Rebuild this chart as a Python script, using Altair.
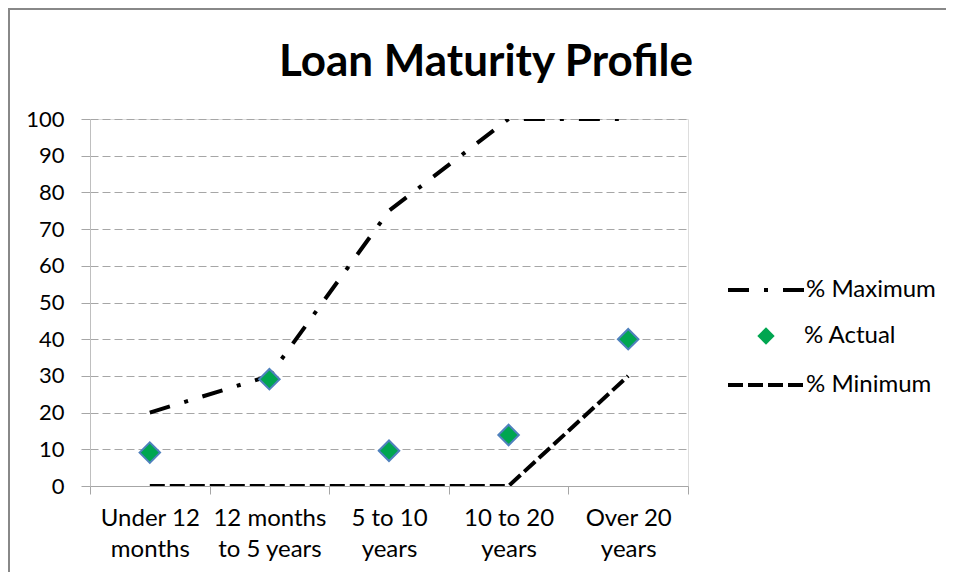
import json
import altair as alt
import pandas as pd

categories = ["Under 12 months", "12 months to 5 years", "5 to 10 years", "10 to 20 years", "Over 20 years"]
tick_labels = [["Under 12", "months"], ["12 months", "to 5 years"], ["5 to 10", "years"],
               ["10 to 20", "years"], ["Over 20", "years"]]
series_names = ["% Maximum", "% Actual", "% Minimum"]
maximum = [20, 30, 75, 100, 100]
actual = [9.1, 29.1, 9.6, 13.9, 40]
minimum = [0, 0, 0, 0, 30]

rows = []
for name, vals in zip(series_names, [maximum, actual, minimum]):
    for c, v in zip(categories, vals):
        rows.append({"cat": c, "series": name, "value": v})
df = pd.DataFrame(rows)

FONT = "Lato"
label_map = json.dumps(dict(zip(categories, tick_labels)))
MAX_DASH = [21, 15, 4, 15]
MIN_DASH = [15, 5]

x_enc = alt.X(
    "cat:N", sort=categories, bandPosition=0.5,
    scale=alt.Scale(type="band", paddingInner=0, paddingOuter=0),
    axis=alt.Axis(title=None, labelAngle=0, tickBand="extent", grid=False,
                  domainColor="#a6a6a6", tickColor="#a6a6a6", tickSize=8,
                  labelPadding=12, labelFont=FONT, labelFontSize=24, labelColor="#000000",
                  labelLineHeight=31, labelExpr=label_map + "[datum.label]"),
)
y_enc = alt.Y(
    "value:Q", scale=alt.Scale(domain=[0, 100], nice=False),
    axis=alt.Axis(title=None, values=list(range(0, 101, 10)), grid=True, gridDash=[8, 4],
                  gridColor="#a6a6a6", domainColor="#bfbfbf", tickColor="#a6a6a6", tickSize=9,
                  labelPadding=17, labelFont=FONT, labelFontSize=22, labelColor="#000000"),
)

base = alt.Chart(df).encode(x=x_enc, y=y_enc)

max_line = base.transform_filter(alt.datum.series == series_names[0]).mark_line(
    color="black", strokeWidth=4, clip=True
).encode(
    strokeDash=alt.StrokeDash(
        "series:N",
        scale=alt.Scale(domain=[series_names[0]], range=[MAX_DASH]),
        legend=alt.Legend(orient="none", legendX=636, legendY=131, title=None,
                          symbolType="stroke", symbolSize=5776, symbolStrokeWidth=4,
                          symbolStrokeColor="black", labelFont=FONT, labelFontSize=24,
                          labelColor="#000000", labelOffset=0),
    )
)

points = base.transform_filter(alt.datum.series == series_names[1]).mark_point(
    filled=True, fill="#00A650", stroke="#4F81BD", strokeWidth=2, size=420, opacity=1
).encode(
    shape=alt.Shape(
        "series:N",
        scale=alt.Scale(domain=[series_names[1]], range=["diamond"]),
        legend=alt.Legend(orient="none", legendX=664, legendY=205, title=None,
                          symbolSize=300, symbolFillColor="#00A650",
                          symbolStrokeColor="#4F81BD", symbolStrokeWidth=1.5,
                          labelFont=FONT, labelFontSize=24, labelColor="#000000",
                          labelOffset=26),
    )
)

min_line = base.transform_filter(alt.datum.series == series_names[2]).mark_line(
    color="black", strokeWidth=4, clip=True
).encode(
    strokeDash=alt.StrokeDash(
        "series:N",
        scale=alt.Scale(domain=[series_names[2]], range=[MIN_DASH]),
        legend=alt.Legend(orient="none", legendX=636, legendY=226, title=None,
                          symbolType="stroke", symbolSize=5776, symbolStrokeWidth=4,
                          symbolStrokeColor="black", labelFont=FONT, labelFontSize=24,
                          labelColor="#000000", labelOffset=0),
    )
)

frame_data = alt.Data(values=[{"k": 1}])
frame_left = alt.Chart(frame_data).mark_rule(color="#888888", strokeWidth=2).encode(
    x=alt.value(-81), y=alt.value(-110), y2=alt.value(480)
)
frame_top = alt.Chart(frame_data).mark_rule(color="#888888", strokeWidth=2).encode(
    x=alt.value(-82), x2=alt.value(880), y=alt.value(-110)
)

chart = alt.layer(frame_left, frame_top, max_line, points, min_line).resolve_scale(
    strokeDash="independent", shape="independent"
).properties(
    width=598, height=367,
    autosize=alt.AutoSizeParams(type="none"),
    padding={"left": 82, "top": 111, "right": 258, "bottom": 86},
    title=alt.Title("Loan Maturity Profile", font=FONT, fontSize=44, fontWeight="bold",
                    color="#000000", dx=97, dy=97, offset=20),
).configure_view(stroke=None).configure(background="white")

chart.save("out.html", embed_options={"renderer": "svg", "actions": False})
